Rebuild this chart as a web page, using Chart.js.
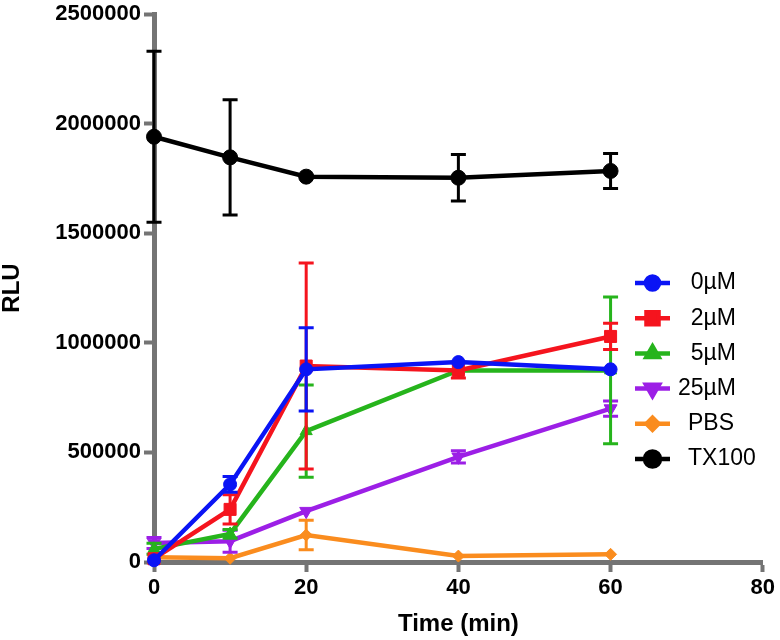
<!DOCTYPE html>
<html>
<head>
<meta charset="utf-8">
<title>RLU vs time</title>
<script src="https://cdn.jsdelivr.net/npm/chart.js@4.4.1/dist/chart.umd.min.js"></script>
<style>
  body { margin: 0; background: #fff; }
  canvas { display: block; }
</style>
</head>
<body>
<canvas id="rluChart" width="780" height="640"></canvas>
<script>
// time points (min)
const times = [0, 10, 20, 40, 60];

const labels = ['0µM', '2µM', '5µM', '25µM', 'PBS', 'TX100'];
const colors = ['#0a14f5', '#f5141e', '#26b41c', '#9c1fe6', '#fa8c1e', '#000000'];

// mean RLU per series
const rlu0uM  = [8000, 354000, 879000, 912000, 879000];
const rlu2uM  = [15000, 240000, 894000, 874000, 1029000];
const rlu5uM  = [60000, 128000, 597000, 874000, 874000];
const rlu25uM = [87000, 95000, 232000, 480000, 700000];
const rluPBS  = [22000, 17000, 123000, 27000, 35000];
const rluTX100 = [1940000, 1846000, 1758000, 1753000, 1784000];

// error (+/-) per series, 0 = hidden behind the marker
const err0uM  = [0, 36000, 190000, 0, 0];
const err2uM  = [0, 67000, 470000, 35000, 60000];
const err5uM  = [25000, 20000, 210000, 0, 335000];
const err25uM = [25000, 50000, 0, 28000, 35000];
const errPBS  = [0, 0, 67000, 0, 0];
const errTX100 = [390000, 263000, 0, 106000, 80000];

const yTicks = [0, 500000, 1000000, 1500000, 2000000, 2500000];
const xTicks = [0, 20, 40, 60, 80];

const axisGray = '#747474';

const seriesValues = [rlu0uM, rlu2uM, rlu5uM, rlu25uM, rluPBS, rluTX100];
const seriesErrors = [err0uM, err2uM, err5uM, err25uM, errPBS, errTX100];
const markers = [
    { style: 'circle', radius: 6.5, rotation: 0 },
    { style: 'rect', radius: 8.5, rotation: 0 },
    { style: 'triangle', radius: 7, rotation: 0 },
    { style: 'triangle', radius: 7.5, rotation: 180 },
    { style: 'rectRot', radius: 6, rotation: 0 },
    { style: 'circle', radius: 7.5, rotation: 0 }
];

const datasets = labels.map((label, i) => ({
    label: label,
    data: times.map((t, j) => ({ x: t, y: seriesValues[i][j] })),
    errors: seriesErrors[i],
    borderColor: colors[i],
    backgroundColor: colors[i],
    borderWidth: 4.5,
    pointStyle: markers[i].style,
    pointRadius: markers[i].radius,
    pointRotation: markers[i].rotation,
    pointBorderWidth: 1,
    tension: 0,
    clip: false
}));

// vertical error bars with caps, drawn under each dataset's own line
const errorBars = {
    id: 'errorBars',
    beforeDatasetDraw(chart, args) {
        const ds = chart.data.datasets[args.index];
        const ctx = chart.ctx;
        const xs = chart.scales.x;
        const ys = chart.scales.y;
        ctx.save();
        ctx.strokeStyle = ds.borderColor;
        ctx.lineWidth = 3;
        ds.data.forEach((p, j) => {
            const e = ds.errors[j];
            if (!e) return;
            const x = xs.getPixelForValue(p.x);
            const top = ys.getPixelForValue(p.y + e);
            const bottom = ys.getPixelForValue(p.y - e);
            ctx.beginPath();
            ctx.moveTo(x, top);
            ctx.lineTo(x, bottom);
            ctx.moveTo(x - 7.5, top);
            ctx.lineTo(x + 7.5, top);
            ctx.moveTo(x - 7.5, bottom);
            ctx.lineTo(x + 7.5, bottom);
            ctx.stroke();
        });
        ctx.restore();
    }
};

// legend inside the plot, on the right
const insideLegend = {
    id: 'insideLegend',
    afterDraw(chart) {
        const ctx = chart.ctx;
        ctx.save();
        chart.data.datasets.forEach((ds, i) => {
            const y = 283 + i * 35.2;
            ctx.strokeStyle = ds.borderColor;
            ctx.lineWidth = 4.5;
            ctx.beginPath();
            ctx.moveTo(635, y);
            ctx.lineTo(670, y);
            ctx.stroke();
            ctx.fillStyle = ds.backgroundColor;
            Chart.helpers.drawPoint(ctx, {
                pointStyle: ds.pointStyle,
                radius: ds.pointRadius,
                rotation: ds.pointRotation,
                borderWidth: 1
            }, 652.5, y);
            ctx.fillStyle = '#000';
            ctx.font = '23px "Liberation Sans", Arial, sans-serif';
            ctx.textBaseline = 'middle';
            if (ds.label.endsWith('µM')) {
                ctx.textAlign = 'right';
                ctx.fillText(ds.label, 736, y);
            } else {
                ctx.textAlign = 'left';
                ctx.fillText(ds.label, 688, y);
            }
        });
        ctx.restore();
    }
};

const tickFont = { family: '"Liberation Sans", Arial, sans-serif', size: 22, weight: 'bold', lineHeight: 1 };
const titleFont = { family: '"Liberation Sans", Arial, sans-serif', size: 24, weight: 'bold', lineHeight: 1 };

new Chart(document.getElementById('rluChart'), {
    type: 'line',
    data: { datasets: datasets },
    plugins: [errorBars, insideLegend],
    options: {
        responsive: false,
        animation: false,
        layout: { padding: { top: 11, right: 14, bottom: 0, left: 0 } },
        plugins: {
            legend: { display: false },
            tooltip: { enabled: false }
        },
        scales: {
            x: {
                type: 'linear',
                min: xTicks[0],
                max: xTicks[xTicks.length - 1],
                afterBuildTicks: scale => { scale.ticks = xTicks.map(v => ({ value: v })); },
                afterFit: scale => { scale.height = 78; },
                border: { color: axisGray, width: 5 },
                grid: { drawOnChartArea: false, drawTicks: true, tickLength: 10, tickColor: axisGray, tickWidth: 4 },
                ticks: { color: '#000', font: tickFont, padding: 5, maxRotation: 0 },
                title: { display: true, text: 'Time (min)', color: '#000', font: titleFont, padding: { top: 0, bottom: 4 } }
            },
            y: {
                min: yTicks[0],
                max: yTicks[yTicks.length - 1],
                afterBuildTicks: scale => { scale.ticks = yTicks.map(v => ({ value: v })); },
                afterFit: scale => { scale.width = 154; },
                border: { color: axisGray, width: 5 },
                grid: { drawOnChartArea: false, drawTicks: true, tickLength: 10, tickColor: axisGray, tickWidth: 4 },
                ticks: { color: '#000', font: tickFont, padding: 3, callback: v => String(v) },
                title: { display: true, text: 'RLU', color: '#000', font: titleFont, padding: { top: 0, bottom: 0 } }
            }
        }
    }
});
</script>
</body>
</html>
